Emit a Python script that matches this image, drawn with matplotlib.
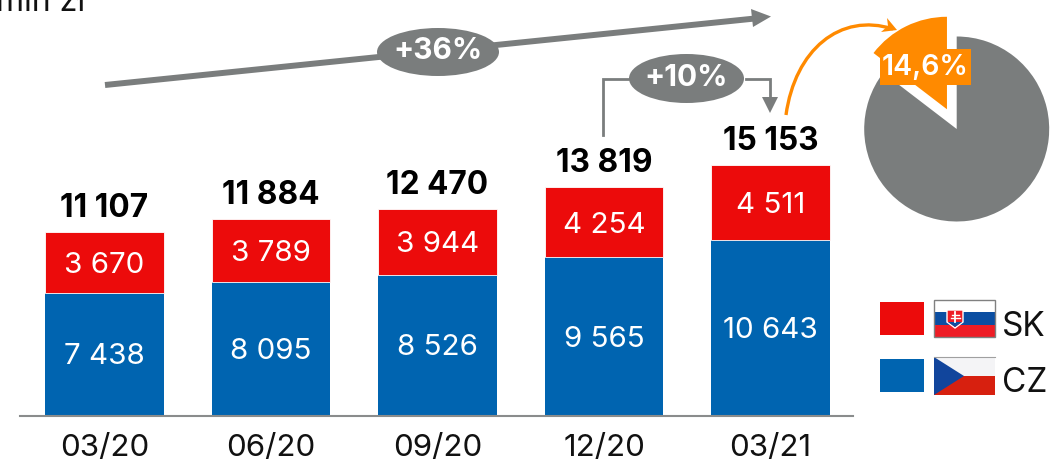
import matplotlib
matplotlib.use('Agg')
import matplotlib.pyplot as plt
from matplotlib.patches import Ellipse, Rectangle, Polygon, PathPatch
from matplotlib.path import Path

W, H = 1051, 462
periods = ['03/20', '06/20', '09/20', '12/20', '03/21']
cz = [7438, 8095, 8526, 9565, 10643]
sk = [3670, 3789, 3944, 4254, 4511]
totals = [11107, 11884, 12470, 13819, 15153]
share = [14.6, 85.4]

RED = '#ec0b0b'
BLUE = '#0064b0'
GREY = '#7a7d7d'
ORANGE = '#ff8a00'
FONT = 'Inter'


def fmt(v):
    return f'{v:,}'.replace(',', ' ')


plt.rcParams['font.family'] = FONT
fig = plt.figure(figsize=(W / 100, H / 100), dpi=100)

# bars, axis spans the baseline in pixels
base_y = 415.5
ax = fig.add_axes([20 / W, (H - base_y) / H, 833 / W, base_y / H])
ax.set_xlim(-0.507, 4.495)
ax.set_ylim(0, base_y / 0.01653)
ax.patch.set_alpha(0)
ax.bar(range(5), cz, width=0.71, color=BLUE)
ax.bar(range(5), sk, width=0.71, bottom=cz, color=RED, edgecolor='white', linewidth=0.6)
for i in range(5):
    ax.text(i, cz[i] / 2 - 170, fmt(cz[i]), color='white', fontsize=21.3, ha='center', va='center', fontweight='normal')
    ax.text(i, cz[i] + sk[i] / 2 - 170, fmt(sk[i]), color='white', fontsize=21.3, ha='center', va='center', fontweight='normal')
    ax.text(i, totals[i] + 500, fmt(totals[i]), color='black', fontsize=22.8, ha='center', va='bottom', fontweight='bold')
ax.set_xticks(range(5), periods)
ax.tick_params(axis='x', length=0, labelsize=22.5, pad=13, labelcolor='#111111')
ax.set_yticks([])
for s in ['top', 'left', 'right']:
    ax.spines[s].set_visible(False)
ax.spines['bottom'].set_color('#8a8c8c')
ax.spines['bottom'].set_linewidth(1.5)

# pie
cx, cy, r, half = 956.7, 129, 92.5, 125
pie_ax = fig.add_axes([(cx - half) / W, (H - cy - half) / H, 2 * half / W, 2 * half / H])
pie_ax.pie(share, startangle=90, colors=[ORANGE, GREY], explode=[22 / r, 0], radius=1)
pie_ax.set_xlim(-half / r, half / r)
pie_ax.set_ylim(-half / r, half / r)
pie_ax.patch.set_alpha(0)

# overlay in image pixels for arrows, badges, legend
ov = fig.add_axes([0, 0, 1, 1])
ov.set_xlim(0, W)
ov.set_ylim(H, 0)
ov.axis('off')
ov.patch.set_alpha(0)

ov.text(85, 11, 'mln zł', fontsize=23, ha='right', va='baseline', color='#111111')

# +36% arrow
ov.plot([105, 755], [85, 18.5], color=GREY, lw=4.3, solid_capstyle='butt')
ov.add_patch(Polygon([[771, 16.5], [751, 9], [753, 27]], color=GREY, lw=0))
ov.add_patch(Ellipse((438, 52), 122, 48, color=GREY, lw=0))
ov.text(438, 51, '+36%', color='white', fontsize=21.5, fontweight='bold', ha='center', va='center')

# +10% bracket
ov.plot([603, 603, 628], [135, 79, 79], color=GREY, lw=2, solid_joinstyle='miter')
ov.plot([746, 770, 770], [79, 79, 100], color=GREY, lw=2, solid_joinstyle='miter')
ov.add_patch(Polygon([[770, 113], [762, 97], [778, 97]], color=GREY, lw=0))
ov.add_patch(Ellipse((686.5, 78.5), 115, 49, color=GREY, lw=0))
ov.text(686.5, 78, '+10%', color='white', fontsize=21.5, fontweight='bold', ha='center', va='center')

# orange arc to the pie
arc = Path([(786, 115), (795, 50), (840, 12), (893, 29)],
           [Path.MOVETO, Path.CURVE4, Path.CURVE4, Path.CURVE4])
ov.add_patch(PathPatch(arc, fc='none', ec=ORANGE, lw=2.4))
ov.add_patch(Polygon([[897, 30], [887, 18], [888, 26], [881, 32]], color=ORANGE, lw=0))
ov.add_patch(Rectangle((880, 49), 91, 36, color=ORANGE, lw=0))
ov.text(925.5, 67, '14,6%', color='white', fontsize=20.5, fontweight='semibold', ha='center', va='center')

# legend swatches
ov.add_patch(Rectangle((880, 302), 43.5, 33, color=RED, lw=0))
ov.add_patch(Rectangle((880, 359), 43.5, 33, color=BLUE, lw=0))

# SK flag
ov.add_patch(Rectangle((934, 300), 61, 12.5, color='white', lw=0))
ov.add_patch(Rectangle((934, 312), 61, 13, color='#0b4ea2', lw=0))
ov.add_patch(Rectangle((934, 325), 61, 12, color='#ee1c25', lw=0))
ov.add_patch(Rectangle((934, 300), 61, 37, fc='none', ec='#808080', lw=1))
ov.add_patch(Polygon([[947, 310], [963, 310], [963, 322], [955, 328], [947, 322]], fc='#ee1c25', ec='white', lw=1))
ov.plot([955, 955], [312, 322], color='white', lw=1.3)
ov.plot([951.5, 958.5], [314.5, 314.5], color='white', lw=1)
ov.plot([950.5, 959.5], [317.5, 317.5], color='white', lw=1)
ov.add_patch(Polygon([[948, 322], [962, 322], [955, 327]], color='#0b4ea2', lw=0))

# CZ flag
ov.add_patch(Rectangle((934, 357), 61, 19, color='#f4f4f6', lw=0))
ov.add_patch(Rectangle((934, 376), 61, 19, color='#d7200f', lw=0))
ov.plot([934, 995], [357, 357], color='#a0a0a0', lw=0.8)
ov.add_patch(Polygon([[934, 357], [964, 376], [934, 395]], color='#11459c', lw=0))

ov.text(1002, 336.5, 'SK', fontsize=24, color='#111111', ha='left', va='baseline')
ov.text(1002, 392, 'CZ', fontsize=24, color='#111111', ha='left', va='baseline')

fig.savefig('out.png', dpi=100)
